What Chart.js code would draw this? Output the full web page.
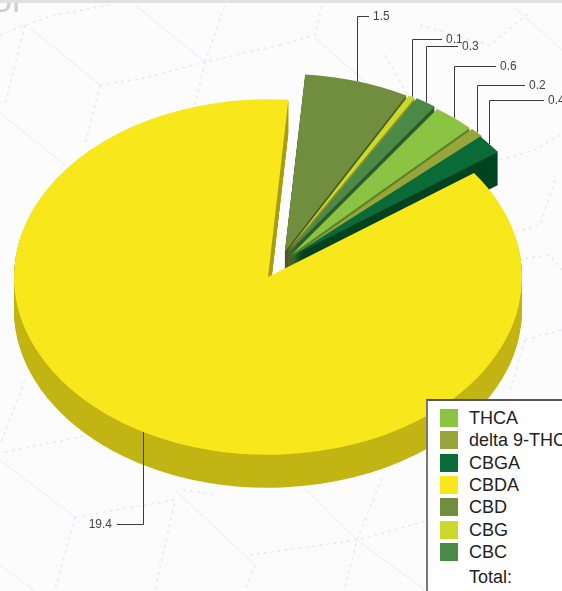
<!DOCTYPE html>
<html>
<head>
<meta charset="utf-8">
<title>Cannabinoids</title>
<script src="https://cdn.jsdelivr.net/npm/chart.js@4/dist/chart.umd.min.js"></script>
<style>
  html, body { margin: 0; padding: 0; width: 562px; height: 591px; overflow: hidden; background: #fcfcfd; }
  #page { position: relative; width: 562px; height: 591px; overflow: hidden; font-family: "Liberation Sans", Arial, sans-serif; }
  #topbar { position: absolute; left: 0; top: 0; width: 562px; height: 3px; background: #e1e1e1; z-index: 3; }
  #wm { position: absolute; left: -8px; top: -21px; font-size: 36px; color: #cfcfcf; }
  #bg { position: absolute; left: 0; top: 0; }
  #bg polyline { fill: none; stroke: #e7ebf2; stroke-width: 1.6; stroke-dasharray: 3 4; }
  #bg polyline.solid { stroke: #f0f2f7; stroke-width: 1.2; stroke-dasharray: none; }
  canvas { position: absolute; left: 0; top: 0; }
  #legend { position: absolute; left: 426px; top: 399px; width: 200px; height: 220px; background: #fff;
            border-left: 2px solid #777; border-top: 2px solid #555; box-sizing: border-box; font-size: 18px; color: #222; }
  #legend .row { position: absolute; left: 12px; height: 22px; line-height: 18px; white-space: nowrap; }
  #legend i { display: inline-block; width: 18px; height: 18px; margin-right: 11px; vertical-align: top; }
  #legend .total { padding-left: 29px; }
</style>
</head>
<body>
<div id="page">
  <svg id="bg" width="562" height="591">
    <polyline points="0,35 25,25 55,15 115,4"/>
    <polyline points="25,25 5,105"/>
    <polyline class="solid" points="30,28 100,85"/>
    <polyline points="100,85 145,78 205,62 280,45"/>
    <polyline points="100,85 85,145"/>
    <polyline class="solid" points="0,113 65,165"/>
    <polyline class="solid" points="135,5 205,62"/>
    <polyline points="205,62 225,5"/>
    <polyline points="205,62 195,105"/>
    <polyline points="280,45 315,35 322,5"/>
    <polyline class="solid" points="315,38 375,90"/>
    <polyline points="420,25 490,45 530,12"/>
    <polyline class="solid" points="515,8 562,50"/>
    <polyline points="385,55 410,100"/>
    <polyline points="500,160 535,150 560,135"/>
    <polyline points="555,180 540,225 515,232"/>
    <polyline points="525,258 550,255 562,270"/>
    <polyline points="525,340 562,330"/>
    <polyline points="525,340 510,390"/>
    <polyline points="25,380 0,445"/>
    <polyline points="5,452 75,438 85,435"/>
    <polyline class="solid" points="0,460 75,517"/>
    <polyline points="75,517 175,500 155,590"/>
    <polyline points="75,517 55,590"/>
    <polyline class="solid" points="175,490 255,565"/>
    <polyline points="183,490 215,495"/>
    <polyline points="250,555 357,540 430,520"/>
    <polyline points="345,587 357,540 382,478"/>
    <polyline class="solid" points="305,488 357,540 425,590"/>
    <polyline points="255,565 245,590"/>
    <polyline class="solid" points="0,565 35,591"/>
  </svg>
  <div id="wm">or</div>
  <canvas id="pie" width="562" height="591"></canvas>
  <div id="legend"></div>
  <div id="topbar"></div>
</div>
<script>
// values, legend order
const categories = ['THCA', 'delta 9-THC', 'CBGA', 'CBDA', 'CBD', 'CBG', 'CBC'];
const values = [0.6, 0.2, 0.4, 19.4, 1.5, 0.1, 0.3];
const valueLabels = ['0.6', '0.2', '0.4', '19.4', '1.5', '0.1', '0.3'];
const topColors = ['#8bc443', '#98a53a', '#0a6b39', '#f8e71a', '#718d3e', '#cad92b', '#4a8a46'];
const wallColors = ['#5b8229', '#5f6824', '#03431f', '#c2b413', '#4a5b28', '#87912a', '#2f5a2c'];
const CUT_WALL = '#a89c10';   // the CBDA wall seen at its cut edge

// 3D look
const TILT = 0.7;       // y squash of the top face
const DEPTH = 33;       // wall height in px
// how far each slice is pulled out, and in which direction (deg from 12 o'clock)
const explodeDist = [39.7, 40, 38.4, 0, 40, 41, 41.4];
const explodeDir = [36.3, 40, 38.7, 0, 24.9, 27.6, 30.5];
const paintOrder = [4, 5, 6, 0, 1, 2, 3];   // back to front, CBDA last

// callouts: elbow y and where the horizontal part stops
const leaderY = [66, 85, 100, 524, 16, 39, 46];
const leaderEndX = [496, 525, 544, 117, 369, 442, 458];

const midAngle = (a) => (a.startAngle + a.endAngle) / 2;
const pullX = (i) => Math.sin(explodeDir[i] * Math.PI / 180) * explodeDist[i];
const pullY = (i) => -Math.cos(explodeDir[i] * Math.PI / 180) * explodeDist[i];

// faux 3d: stacks every arc down the page, then the top face
const pie3d = {
  id: 'pie3d',
  beforeDatasetsDraw(chart) {
    const { ctx } = chart;
    const arcs = chart.getDatasetMeta(0).data;
    const drawAt = (arc, i, dy) => {
      const cy = arc.y;
      ctx.save();
      ctx.translate(0, cy + dy);
      ctx.scale(1, TILT);
      ctx.translate(0, -cy);
      ctx.translate(pullX(i), pullY(i));
      arc.draw(ctx);
      ctx.restore();
    };
    paintOrder.forEach((i) => {
      const wall = Object.create(arcs[i]);
      let fill = wallColors[i];
      if (explodeDist[i] === 0) {
        // only the part above centre shows at the cut, the rest is the rim
        fill = ctx.createLinearGradient(0, arcs[i].y - 1, 0, arcs[i].y + 1);
        fill.addColorStop(0.5, CUT_WALL);
        fill.addColorStop(0.5, wallColors[i]);
      }
      wall.options = { ...arcs[i].options, backgroundColor: fill };
      for (let dy = DEPTH; dy > 0; dy--) drawAt(wall, i, dy);
      drawAt(arcs[i], i, 0);
    });
    return false;
  },
  afterDraw(chart) {
    const { ctx } = chart;
    chart.getDatasetMeta(0).data.forEach((arc, i) => {
      const a = midAngle(arc);
      const x = Math.round(arc.x + Math.cos(a) * arc.outerRadius + pullX(i)) + 0.5;
      const y = arc.y + (Math.sin(a) * arc.outerRadius + pullY(i)) * TILT;
      const ey = leaderY[i] + 0.5, ex = leaderEndX[i];
      ctx.save();
      ctx.strokeStyle = '#3a3a3a';
      ctx.lineWidth = 1;
      ctx.beginPath();
      ctx.moveTo(x, y);
      ctx.lineTo(x, ey);
      ctx.lineTo(ex, ey);
      ctx.stroke();
      ctx.fillStyle = '#444';
      ctx.font = '12px "Liberation Sans", Arial, sans-serif';
      ctx.textBaseline = 'middle';
      const left = ex < x;
      ctx.textAlign = left ? 'right' : 'left';
      ctx.fillText(valueLabels[i], ex + (left ? -5 : 4), ey);
      ctx.restore();
    });
  },
};

new Chart(document.getElementById('pie'), {
  type: 'pie',
  data: {
    labels: categories,
    datasets: [{ data: values, backgroundColor: topColors, borderWidth: 0 }],
  },
  options: {
    responsive: false,
    animation: false,
    radius: 254,
    rotation: 35,
    layout: { padding: { right: 26, bottom: 37 } },
    plugins: { legend: { display: false }, tooltip: { enabled: false } },
  },
  plugins: [pie3d],
});

// html legend, clipped by the page like the original
const legend = document.getElementById('legend');
categories.forEach((name, i) => {
  const row = document.createElement('div');
  row.className = 'row';
  row.style.top = (8 + i * 22.3) + 'px';
  row.innerHTML = '<i style="background:' + topColors[i] + '"></i>' + name;
  legend.appendChild(row);
});
const total = document.createElement('div');
total.className = 'row total';
total.style.top = '167px';
total.textContent = 'Total:';
legend.appendChild(total);
</script>
</body>
</html>
